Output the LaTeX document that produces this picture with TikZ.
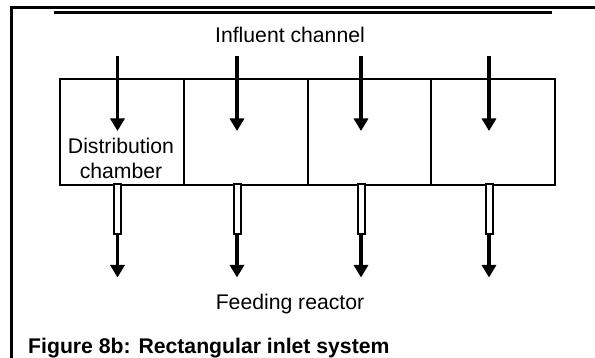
\documentclass[tikz,border=0pt]{standalone}
\usepackage{fontspec}
\setmainfont{Liberation Sans}
\usetikzlibrary{arrows.meta}
\begin{document}
\begin{tikzpicture}[x=1pt,y=-1pt,
  txt/.style={font=\fontsize{21.2}{25}\selectfont, inner sep=0pt, align=center},
  captxt/.style={font=\fontsize{21.2}{25}\selectfont\bfseries, inner sep=0pt, anchor=west},
  chamber/.style={draw, line width=2.2pt, minimum width=123.75pt, minimum height=106pt, inner sep=0pt, anchor=north west},
  flow/.style={line width=3.2pt, -{Triangle[width=14pt,length=12.5pt]}},
  pipe/.style={draw, line width=2pt, fill=white}]
\useasboundingbox (0,0) rectangle (595,358);
% frame
\draw[line width=2.4pt] (11.5,358) -- (11.5,7.5) -- (595,7.5);
\draw[line width=3.2pt] (54,12.5) -- (552,12.5);
% labels
\node[txt] (inf) at (290,35) {Influent channel};
\node[txt] (feed) at (290,304) {Feeding reactor};
\node[captxt] (caption) at (28,348) {Figure 8b: Rectangular inlet system};
% chambers
\node[chamber] (c1) at (59,78) {};
\node[chamber] (c2) at (182.75,78) {};
\node[chamber] (c3) at (306.5,78) {};
\node[chamber] (c4) at (430.25,78) {};
\node[txt] (dist) at (121,158) {Distribution\\chamber};
% arrows and outlet pipes
\foreach \i/\x in {1/117.5,2/237,3/361,4/489}{
  \coordinate (in\i) at (\x,56);
  \coordinate (it\i) at (\x,131);
  \draw[flow] (in\i) -- (it\i);
  \coordinate (pa\i) at (\x-3.5,184);
  \coordinate (pb\i) at (\x+3.5,234.5);
  \draw[pipe] (pa\i) rectangle (pb\i);
  \coordinate (os\i) at (\x,235.5);
  \coordinate (ot\i) at (\x,277.5);
  \draw[flow] (os\i) -- (ot\i);
}
\end{tikzpicture}
\end{document}
